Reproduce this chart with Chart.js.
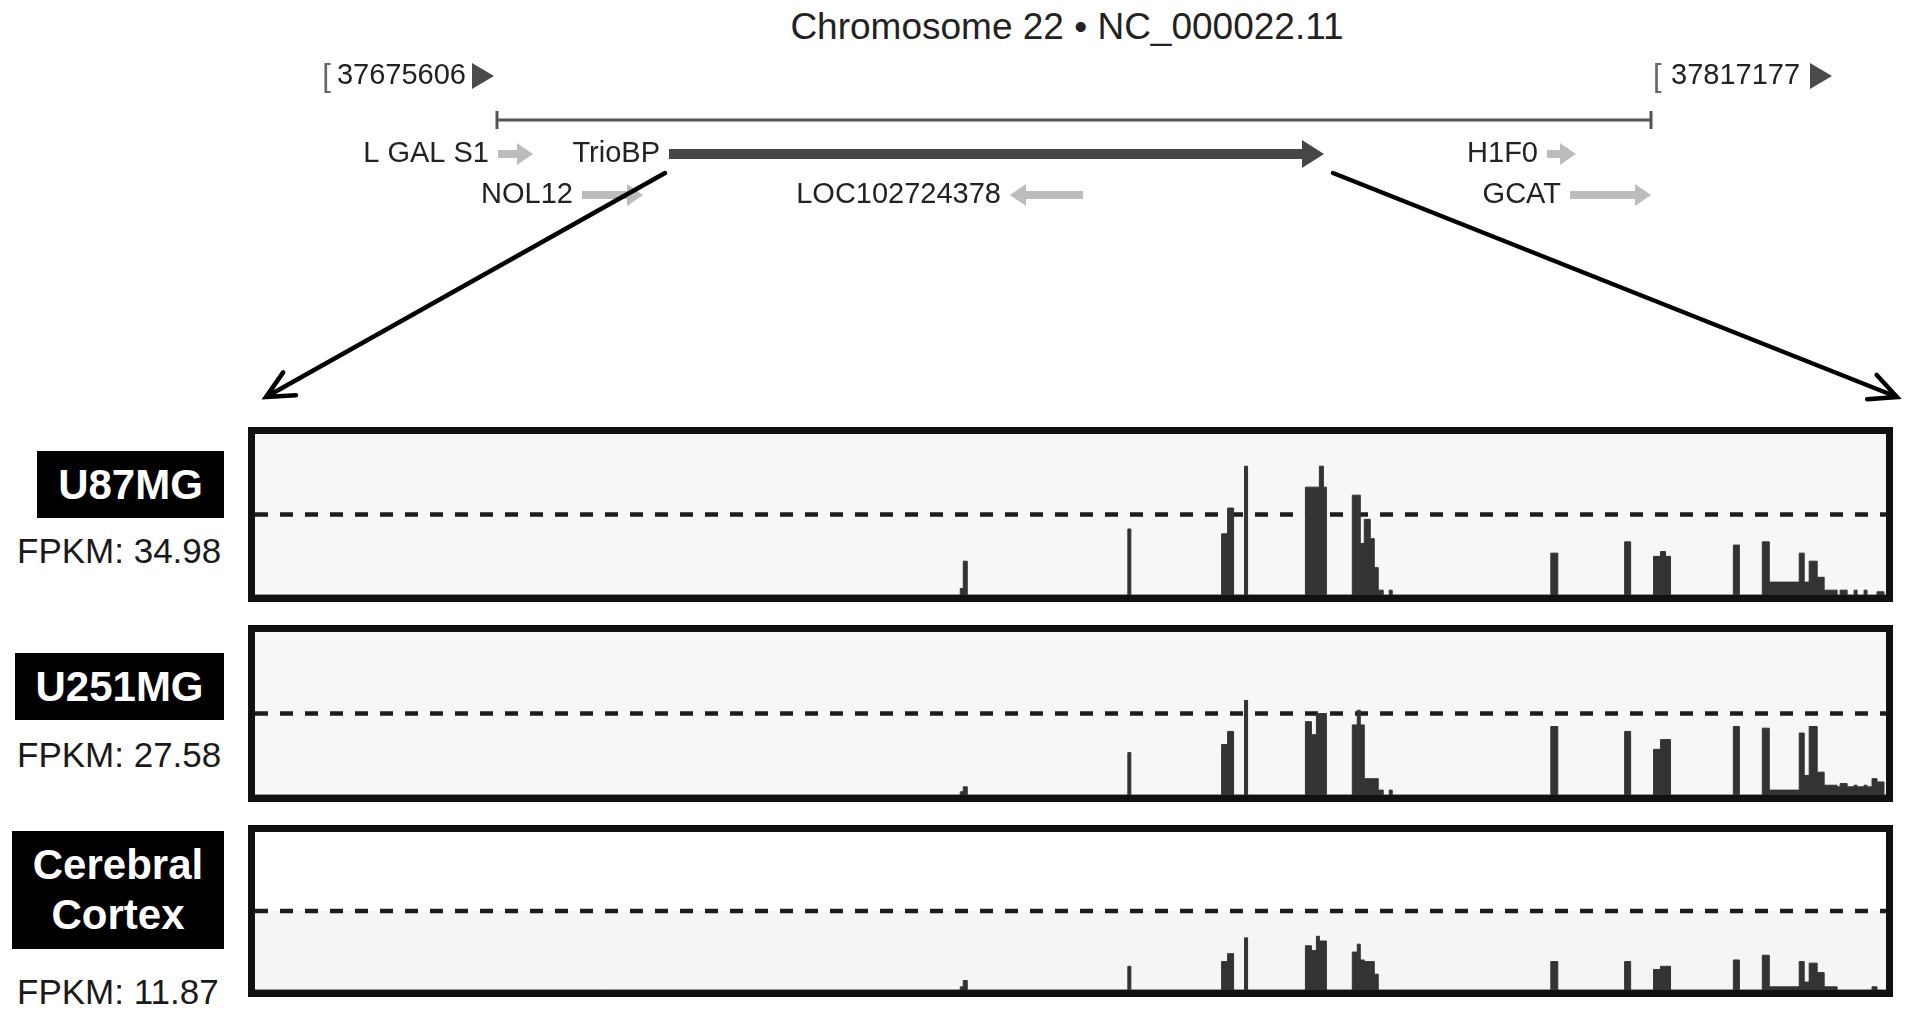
<!DOCTYPE html>
<html>
<head>
<meta charset="utf-8">
<script src="https://cdn.jsdelivr.net/npm/chart.js@4.4.1/dist/chart.umd.min.js"></script>
<style>
  body { margin: 0; background: #fff; width: 1913px; height: 1018px; overflow: hidden; position: relative; font-family: "Liberation Sans", Arial, sans-serif; }
  #title { position: absolute; left: 667px; width: 800px; top: 5px; line-height: 44px; text-align: center; font-size: 37px; color: #222; }
  #header { position: absolute; left: 0; top: 0; width: 1913px; height: 420px; }
  .panel { position: absolute; left: 248px; width: 1645px; box-sizing: border-box; border: 7px solid #111; background: #f7f7f7; }
  .panel div { position: relative; width: 100%; height: 100%; }
  .tag { position: absolute; background: #000; color: #fff; font-weight: bold; font-size: 42px; line-height: 50px; display: flex; align-items: center; justify-content: center; text-align: center; }
  .fpkm { position: absolute; left: 17px; font-size: 35px; line-height: 40px; color: #1a1a1a; white-space: nowrap; }
</style>
</head>
<body>
<div id="title">Chromosome 22 • NC_000022.11</div>
<div id="header"><canvas id="genes"></canvas></div>

<div class="panel" id="p0" style="top:427px;height:175px;"><div><canvas id="track0"></canvas></div></div>
<div class="panel" id="p1" style="top:625px;height:177px;"><div><canvas id="track1"></canvas></div></div>
<div class="panel" id="p2" style="top:825px;height:172px;background:linear-gradient(#fff 0%, #fff 50%, #f5f5f5 50%, #f5f5f5 100%);"><div><canvas id="track2"></canvas></div></div>

<script>
// region shown at the top (chr22, bp)
const regionStart = 37675606;
const regionEnd = 37817177;

// genes in the region
const geneNames = ['L GAL S1', 'TrioBP', 'NOL12', 'LOC102724378', 'H1F0', 'GCAT'];
const geneStart = [37675729, 37696707, 37686034, 37738540, 37804417, 37807240];
const geneEnd = [37680021, 37777062, 37693517, 37747496, 37807975, 37817175];
const geneStrand = [1, 1, 1, -1, 1, 1];
const geneLane = [1, 1, 2, 2, 1, 2];
const focusGene = 'TrioBP';

// samples
const sampleNames = ['U87MG', 'U251MG', 'Cerebral Cortex'];
const fpkm = [34.98, 27.58, 11.87];

// coverage over TrioBP, in ~49 bp bins
const trackBins = 1635;
const thresholdLevel = 50;
const binStart = [707, 710, 875, 969, 975, 992, 1053, 1059, 1064, 1067, 1071, 1100, 1105, 1108, 1112, 1118, 1122, 1126, 1137, 1299, 1373, 1402, 1409, 1414, 1482, 1511, 1518, 1548, 1553, 1558, 1566, 1573, 1586, 1589, 1596, 1603, 1606, 1613, 1616, 1621, 1626];
const binEnd = [710, 714, 878, 975, 981, 995, 1059, 1064, 1067, 1071, 1074, 1105, 1108, 1112, 1118, 1122, 1126, 1131, 1140, 1306, 1379, 1409, 1414, 1419, 1488, 1518, 1548, 1553, 1558, 1566, 1573, 1586, 1589, 1596, 1603, 1606, 1613, 1616, 1621, 1626, 1633];
const u87mg = [4, 21, 41, 38, 54, 80, 67, 67, 67, 80, 67, 62, 62, 32, 47, 35, 17, 3, 3, 26, 33, 24, 27, 24, 31, 33, 8, 26, 8, 21, 11, 3, 0, 3, 0, 3, 0, 3, 0, 0, 2];
const u251mg = [2, 5, 26, 31, 39, 58, 45, 37, 50, 50, 50, 43, 52, 43, 10, 10, 10, 3, 3, 42, 39, 28, 34, 34, 42, 41, 3, 38, 12, 42, 14, 6, 5, 7, 5, 6, 5, 6, 5, 10, 8];
const cortex = [2, 6, 15, 18, 23, 33, 28, 25, 34, 31, 31, 24, 29, 19, 18, 18, 10, 0, 0, 18, 18, 13, 15, 15, 19, 22, 2, 18, 5, 17, 11, 2, 0, 0, 0, 0, 0, 0, 0, 2, 0];

// sample labels
const tagBoxes = [[37, 451, 187, 67], [15, 653, 209, 67], [12, 831, 212, 118]];
const fpkmTops = [531, 735, 972];
sampleNames.forEach((name, i) => {
    const b = tagBoxes[i];
    const tag = document.createElement('div');
    tag.className = 'tag';
    tag.style.cssText = `left:${b[0]}px;top:${b[1]}px;width:${b[2]}px;height:${b[3]}px;`;
    tag.textContent = name;
    document.body.appendChild(tag);
    const f = document.createElement('div');
    f.className = 'fpkm';
    f.style.top = fpkmTops[i] + 'px';
    f.textContent = 'FPKM: ' + fpkm[i].toFixed(2);
    document.body.appendChild(f);
});

// ---- header: gene map ----
const bpPerPx = (regionEnd - regionStart) / 1154;
const rulerLane = 0.17;

function arrow(ctx, x0, x1, yc, dir, shaft, headW, headL, color) {
    ctx.fillStyle = color;
    ctx.beginPath();
    if (dir > 0) {
        ctx.rect(x0, yc - shaft / 2, Math.max(0, x1 - headL - x0), shaft);
        ctx.moveTo(x1 - headL, yc - headW / 2);
        ctx.lineTo(x1, yc);
        ctx.lineTo(x1 - headL, yc + headW / 2);
    } else {
        ctx.rect(x0 + headL, yc - shaft / 2, Math.max(0, x1 - x0 - headL), shaft);
        ctx.moveTo(x0 + headL, yc - headW / 2);
        ctx.lineTo(x0, yc);
        ctx.lineTo(x0 + headL, yc + headW / 2);
    }
    ctx.closePath();
    ctx.fill();
}

function pointer(ctx, fx, fy, tx, ty) {
    const a = Math.atan2(ty - fy, tx - fx);
    ctx.strokeStyle = '#000';
    ctx.lineWidth = 4.5;
    ctx.lineCap = 'round';
    ctx.lineJoin = 'miter';
    ctx.beginPath();
    ctx.moveTo(fx, fy);
    ctx.lineTo(tx, ty);
    ctx.moveTo(tx - 30 * Math.cos(a - 0.45), ty - 30 * Math.sin(a - 0.45));
    ctx.lineTo(tx, ty);
    ctx.lineTo(tx - 30 * Math.cos(a + 0.45), ty - 30 * Math.sin(a + 0.45));
    ctx.stroke();
}

const genePlugin = {
    id: 'genePlugin',
    afterDatasetsDraw(chart) {
        const { ctx, scales: { x, y } } = chart;
        ctx.save();
        const xs = x.getPixelForValue(regionStart);
        const xe = x.getPixelForValue(regionEnd);
        const ry = y.getPixelForValue(rulerLane);

        // ruler end ticks
        ctx.strokeStyle = '#555';
        ctx.lineWidth = 3;
        ctx.beginPath();
        ctx.moveTo(xs, ry - 9); ctx.lineTo(xs, ry + 9);
        ctx.moveTo(xe, ry - 9); ctx.lineTo(xe, ry + 9);
        ctx.stroke();

        // coordinate labels
        const ly = ry - 44;
        ctx.font = '29px "Liberation Sans"';
        ctx.textBaseline = 'middle';
        const s1 = String(regionStart), s2 = String(regionEnd);
        const w1 = ctx.measureText(s1).width;
        ctx.fillStyle = '#4a4a4a';
        ctx.beginPath();
        ctx.moveTo(xs - 25, ly - 13); ctx.lineTo(xs - 3, ly); ctx.lineTo(xs - 25, ly + 13); ctx.closePath();
        ctx.fill();
        ctx.beginPath();
        ctx.moveTo(xe + 159, ly - 13); ctx.lineTo(xe + 181, ly); ctx.lineTo(xe + 159, ly + 13); ctx.closePath();
        ctx.fill();
        ctx.fillStyle = '#222';
        ctx.textAlign = 'right';
        ctx.fillText(s1, xs - 31, ly);
        ctx.textAlign = 'left';
        ctx.fillText(s2, xe + 20, ly);
        ctx.fillStyle = '#666';
        ctx.font = '31px "Liberation Sans"';
        ctx.textAlign = 'right';
        ctx.fillText('[', xs - 31 - w1 - 6, ly + 1);
        ctx.textAlign = 'left';
        ctx.fillText('[', xe + 2, ly + 1);

        // genes
        ctx.font = '29px "Liberation Sans"';
        geneNames.forEach((name, i) => {
            const g0 = x.getPixelForValue(geneStart[i]);
            const g1 = x.getPixelForValue(geneEnd[i]);
            const gy = y.getPixelForValue(geneLane[i]);
            if (name === focusGene) {
                arrow(ctx, g0, g1, gy, geneStrand[i], 10, 28, 22, '#464646');
            } else {
                arrow(ctx, g0, g1, gy, geneStrand[i], 8, 22, 16, '#bcbcbc');
            }
            ctx.fillStyle = '#222';
            ctx.textAlign = 'right';
            ctx.fillText(name, g0 - 9, gy);
        });

        // zoom-in pointers towards the tracks
        const fi = geneNames.indexOf(focusGene);
        const fy = y.getPixelForValue(geneLane[fi]) + 19;
        pointer(ctx, x.getPixelForValue(geneStart[fi]) - 4, fy, 266, 397);
        pointer(ctx, x.getPixelForValue(geneEnd[fi]) + 9, fy, 1897, 397);
        ctx.restore();
    }
};

new Chart(document.getElementById('genes'), {
    type: 'line',
    data: {
        datasets: [{
            data: [{ x: regionStart, y: rulerLane }, { x: regionEnd, y: rulerLane }],
            borderColor: '#555',
            borderWidth: 3,
            pointRadius: 0
        }]
    },
    options: {
        responsive: true,
        maintainAspectRatio: false,
        animation: false,
        events: [],
        layout: { padding: 0 },
        scales: {
            x: { type: 'linear', display: false, min: regionStart - 497 * bpPerPx, max: regionStart + (1913 - 497) * bpPerPx },
            y: { type: 'linear', display: false, reverse: true, min: -2.756, max: 7.488 }
        },
        plugins: { legend: { display: false }, tooltip: { enabled: false } }
    },
    plugins: [genePlugin]
});

// ---- coverage tracks ----
function coverage(heights) {
    const pts = [{ x: 0, y: 0 }];
    for (let i = 0; i < binStart.length; i++) {
        pts.push({ x: binStart[i], y: heights[i] });
        if (i === binStart.length - 1 || binStart[i + 1] !== binEnd[i]) {
            pts.push({ x: binEnd[i], y: 0 });
        }
    }
    pts.push({ x: trackBins, y: 0 });
    return pts;
}

[u87mg, u251mg, cortex].forEach((heights, i) => {
    new Chart(document.getElementById('track' + i), {
        type: 'line',
        data: {
            datasets: [{
                data: coverage(heights),
                stepped: true,
                fill: 'origin',
                backgroundColor: '#333',
                borderColor: '#333',
                borderWidth: 1,
                pointRadius: 0
            }, {
                data: [{ x: 0, y: thresholdLevel }, { x: trackBins, y: thresholdLevel }],
                borderColor: '#1c1c1c',
                borderWidth: 4.3,
                borderDash: [13, 12],
                pointRadius: 0,
                fill: false
            }]
        },
        options: {
            responsive: true,
            maintainAspectRatio: false,
            animation: false,
            events: [],
            layout: { padding: 0 },
            scales: {
                x: { type: 'linear', display: false, min: 0, max: trackBins },
                y: { display: false, min: 0, max: 100 }
            },
            plugins: { legend: { display: false }, tooltip: { enabled: false } }
        }
    });
});
</script>
</body>
</html>
